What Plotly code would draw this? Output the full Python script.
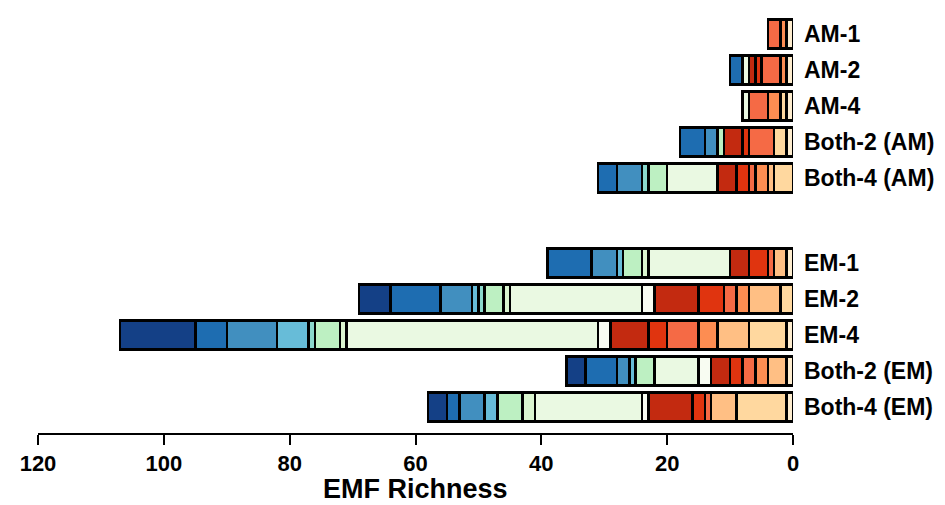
import plotly.graph_objects as go

# Categories, listed top to bottom
categories = ["AM-1", "AM-2", "AM-4", "Both-2 (AM)", "Both-4 (AM)",
              "EM-1", "EM-2", "EM-4", "Both-2 (EM)", "Both-4 (EM)"]

# Segment values per colour group (stacked outward from 0)
seg_cream      = [1, 1, 1, 1, 0, 1, 0, 1, 1, 1]
seg_lightpeach = [0, 0, 1, 2, 3, 0, 2, 6, 0, 8]
seg_peach      = [0, 0, 0, 0, 1, 2, 5, 5, 3, 4]
seg_orange     = [1, 1, 2, 0, 2, 0, 2, 3, 2, 0]
seg_coral      = [2, 3, 3, 4, 1, 1, 2, 5, 2, 1]
seg_redorange  = [0, 1, 0, 1, 2, 3, 4, 3, 2, 2]
seg_darkred    = [0, 1, 0, 3, 3, 3, 7, 6, 3, 7]
seg_white      = [0, 0, 0, 0, 0, 0, 2, 2, 2, 1]
seg_palegreen  = [0, 1, 1, 0, 8, 13, 21, 40, 7, 17]
seg_mintgreen  = [0, 0, 0, 0, 0, 1, 1, 1, 0, 2]
seg_lightgreen = [0, 0, 0, 1, 3, 3, 3, 4, 3, 4]
seg_teal       = [0, 0, 0, 0, 1, 0, 1, 1, 0, 0]
seg_lightblue  = [0, 0, 0, 0, 0, 1, 1, 5, 1, 2]
seg_steelblue  = [0, 0, 0, 2, 4, 4, 5, 8, 2, 4]
seg_blue       = [0, 2, 0, 4, 3, 7, 8, 5, 5, 2]
seg_navy       = [0, 0, 0, 0, 0, 0, 5, 12, 3, 3]

x_ticks = [0, 20, 40, 60, 80, 100, 120]
x_title = "EMF Richness"

segments = [
    (seg_cream, "#feedcf"),
    (seg_lightpeach, "#ffd89f"),
    (seg_peach, "#ffbf84"),
    (seg_orange, "#fd8d52"),
    (seg_coral, "#f56a45"),
    (seg_redorange, "#e0340f"),
    (seg_darkred, "#c32a10"),
    (seg_white, "#f8fcf2"),
    (seg_palegreen, "#eaf9e2"),
    (seg_mintgreen, "#daf5cf"),
    (seg_lightgreen, "#bdf0c2"),
    (seg_teal, "#8ad8cc"),
    (seg_lightblue, "#67bcd8"),
    (seg_steelblue, "#418fbf"),
    (seg_blue, "#1e6db1"),
    (seg_navy, "#144086"),
]

# y positions: 1 unit per row, with a larger gap between the AM and EM blocks
GAP = 2.36
n_em = 5
pos = []
for i, c in enumerate(categories):
    j = len(categories) - 1 - i  # index from bottom
    if j < n_em:
        y = 0.72 + j
    else:
        y = 0.72 + (n_em - 1) + GAP + (j - n_em)
    pos.append(y)

fig = go.Figure()
for vals, col in segments:
    fig.add_trace(go.Bar(
        y=pos,
        x=[v if v else None for v in vals],
        orientation="h",
        width=0.8,
        marker=dict(color=col, line=dict(color="black", width=2.5)),
        showlegend=False,
        hoverinfo="skip",
    ))

font_fam = "Liberation Sans, Arial, sans-serif"
fig.update_layout(
    barmode="stack",
    width=945, height=505,
    margin=dict(l=38, r=152, t=10, b=72),
    plot_bgcolor="white", paper_bgcolor="white",
    font=dict(family=font_fam, color="black"),
    xaxis=dict(
        range=[120, 0], autorange=False, automargin=False,
        tickvals=x_ticks, ticktext=[str(t) for t in x_ticks],
        showline=True, linecolor="black", linewidth=2,
        ticks="outside", ticklen=10, tickwidth=2, tickcolor="black",
        showgrid=False, zeroline=False,
        tickfont=dict(size=22, family=font_fam, weight="bold"),
    ),
    yaxis=dict(
        range=[0, 423 / 36], autorange=False, automargin=False,
        tickvals=pos, ticktext=categories,
        side="right", ticks="", showline=False, showgrid=False, zeroline=False,
        ticklabelstandoff=10,
        tickfont=dict(size=23, family=font_fam, weight="bold"),
    ),
    annotations=[dict(
        text=x_title, xref="paper", yref="paper",
        x=0.5, y=-(505 - 433) / 423, xanchor="center", yanchor="bottom",
        showarrow=False, borderpad=0,
        font=dict(size=27, family=font_fam, weight="bold", color="black"),
    )],
)

fig.write_html("out.html")
